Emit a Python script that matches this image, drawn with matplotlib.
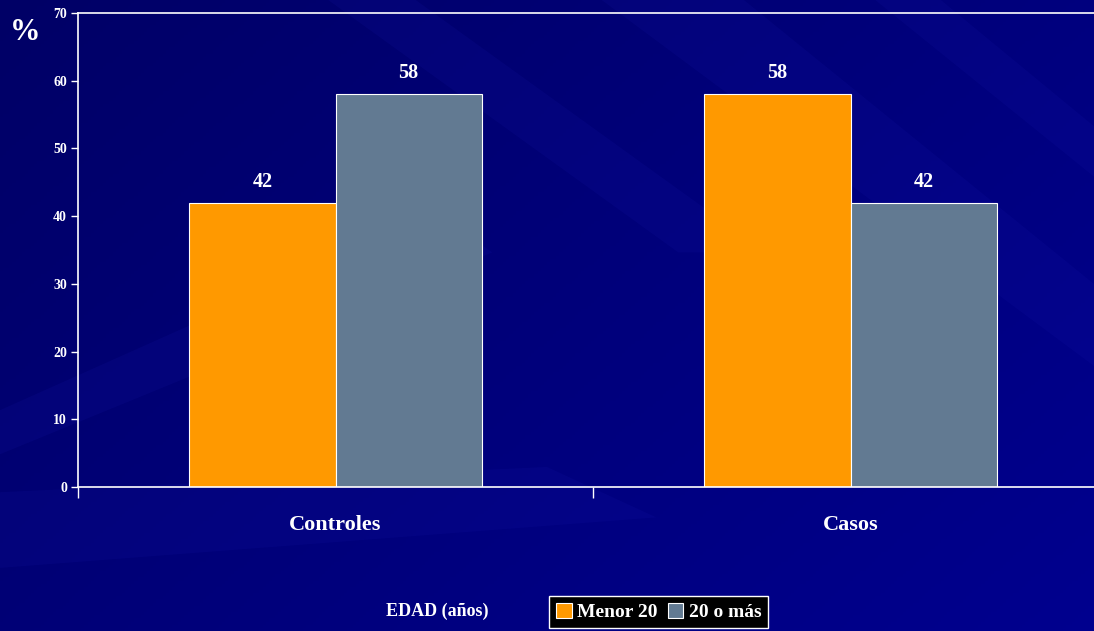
import numpy as np
import matplotlib.pyplot as plt
from matplotlib.patches import Patch, Polygon

categories = ['Controles', 'Casos']
menor_20 = [42, 58]
veinte_o_mas = [58, 42]
series_names = ['Menor 20', '20 o más']
y_ticks = [0, 10, 20, 30, 40, 50, 60, 70]

orange = '#FF9900'
grey = '#627A92'
serif = ['Liberation Serif', 'DejaVu Serif']

fig = plt.figure(figsize=(10.94, 6.31), dpi=100)

# background: dark navy with soft diagonal streaks
bg = fig.add_axes([0, 0, 1, 1], zorder=-10)
h, w = 200, 350
yy, xx = np.mgrid[0:h, 0:w]
t = (xx / w) * 0.6 + (yy / h) * 0.4
img = np.zeros((h, w, 3))
img[..., 2] = 0.40 + 0.16 * t
bg.imshow(img, extent=[0, 1, 0, 1], aspect='auto', origin='upper')
streaks = [
    [(0.55, 1.0), (0.68, 1.0), (1.0, 0.55), (1.0, 0.42)],
    [(0.80, 1.0), (0.86, 1.0), (1.0, 0.80), (1.0, 0.72)],
    [(0.0, 0.22), (0.0, 0.10), (0.6, 0.18), (0.5, 0.26)],
    [(0.0, 0.35), (0.0, 0.28), (0.45, 0.60), (0.40, 0.66)],
    [(0.3, 1.0), (0.38, 1.0), (0.7, 0.6), (0.62, 0.6)],
]
for pts in streaks:
    bg.add_patch(Polygon(pts, closed=True, facecolor='#1a1ab0', alpha=0.13,
                         edgecolor='none', transform=bg.transAxes))
bg.set_xlim(0, 1)
bg.set_ylim(0, 1)
bg.axis('off')

ax = fig.add_axes([0.0713, 0.2282, 0.9415, 0.7512])
ax.patch.set_alpha(0)

x = np.arange(len(categories))
bw = 0.284
b1 = ax.bar(x - bw / 2, menor_20, bw, color=orange, edgecolor='white', linewidth=0.8)
b2 = ax.bar(x + bw / 2, veinte_o_mas, bw, color=grey, edgecolor='white', linewidth=0.8)

for bars in (b1, b2):
    for rect in bars:
        v = rect.get_height()
        ax.text(rect.get_x() + rect.get_width() / 2, v + 1.6, f'{v:g}',
                ha='center', va='bottom', color='white', fontsize=14.5,
                fontweight='bold', family=serif)

ax.set_xlim(-0.5, 1.5)
ax.set_ylim(0, 70)
ax.set_yticks(y_ticks)
ax.tick_params(axis='y', colors='white', length=5, width=1, pad=3)
for lab in ax.get_yticklabels():
    lab.set_fontsize(10)
    lab.set_fontweight('bold')
    lab.set_family(serif)

ax.set_xticks([-0.5, 0.5, 1.5])
ax.set_xticklabels([])
ax.tick_params(axis='x', which='major', colors='white', length=8, width=1)
ax.set_xticks(x, minor=True)
ax.set_xticklabels(categories, minor=True)
ax.tick_params(axis='x', which='minor', length=0, pad=20, colors='white')
for lab in ax.get_xticklabels(minor=True):
    lab.set_fontsize(16)
    lab.set_fontweight('bold')
    lab.set_family(serif)

for side in ['left', 'bottom', 'top']:
    ax.spines[side].set_color('white')
    ax.spines[side].set_linewidth(1.2)
ax.spines['right'].set_visible(False)

fig.text(0.023, 0.948, '%', color='white', fontsize=22, fontweight='bold',
         family=serif, ha='center', va='center')

fig.text(0.400, 0.031, 'EDAD (años)', color='white', fontsize=13,
         fontweight='bold', family=serif, ha='center', va='center')

handles = [Patch(facecolor=orange, edgecolor='white', linewidth=0.8),
           Patch(facecolor=grey, edgecolor='white', linewidth=0.8)]
leg = fig.legend(handles, series_names, loc='upper left',
                 bbox_to_anchor=(0.502, 0.0555), ncol=2, frameon=True,
                 fancybox=False, handlelength=0.8, handleheight=0.8,
                 handletextpad=0.3, columnspacing=0.5, borderpad=0.35,
                 borderaxespad=0,
                 prop={'family': serif, 'weight': 'bold', 'size': 14})
leg.get_frame().set_facecolor('black')
leg.get_frame().set_edgecolor('white')
leg.get_frame().set_linewidth(1.0)
leg.get_frame().set_alpha(1)
for txt in leg.get_texts():
    txt.set_color('white')

fig.savefig('out.png', dpi=100)
